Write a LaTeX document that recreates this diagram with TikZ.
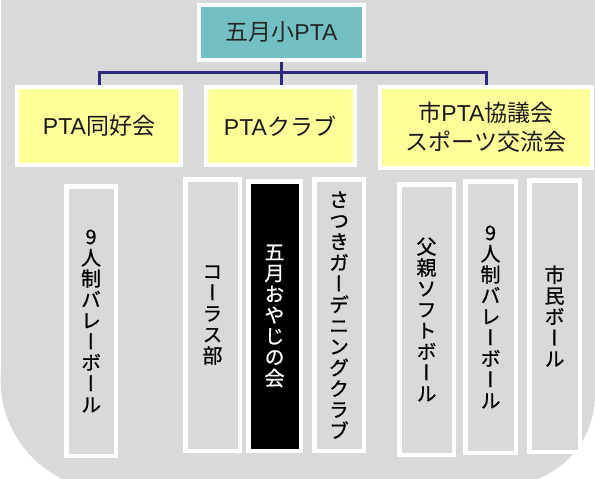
\documentclass[tikz,border=0pt]{standalone}
\usepackage{fontspec}
\usetikzlibrary{backgrounds}
\setmainfont{Liberation Sans}
\newfontfamily\jp{Noto Sans CJK JP}
\newfontfamily\jpv[RawFeature=+vert, FakeBold=0.8]{Noto Sans CJK JP}
\definecolor{bggray}{HTML}{D9D9D9}
\definecolor{teal1}{HTML}{72C0C4}
\definecolor{yel1}{HTML}{FFFF99}
\definecolor{navy1}{HTML}{2B2A7C}
\begin{document}
\begin{tikzpicture}[x=1pt,y=1pt,
  topbox/.style={draw=white, line width=4pt, fill=teal1, minimum width=165pt, minimum height=55pt, inner sep=0pt, font=\fontsize{23}{29}\selectfont, text=black!85},
  lvbox/.style={draw=white, line width=4pt, fill=yel1, inner sep=0pt, align=center, font=\fontsize{23}{29}\selectfont, text=black!90},
  vbox/.style={draw=white, line width=4.5pt, fill=bggray, inner sep=0pt, align=center, font=\jpv\fontsize{20}{21}\selectfont},
  conn/.style={draw=navy1, line width=3pt}]
\useasboundingbox (0,0) rectangle (595,-479);
\begin{scope}[on background layer]
\clip (0,0) rectangle (595,-479);
\fill[bggray] (0.5,0) rectangle (111,-380);
\fill[bggray] (110.5,-380) circle[radius=110];
\fill[bggray] (110.5,0) rectangle (505,-480);
\fill[bggray] (505,0) rectangle (596,-395);
\fill[bggray] (505,-395) circle[radius=90];
\end{scope}
% top
\node[topbox] (top) at (281.5,-32) {{\jp 五月小}PTA};
% level 1
\node[lvbox, minimum width=164pt, minimum height=78pt] (b1) at (99,-126) {PTA{\jp 同好会}};
\node[lvbox, minimum width=149pt, minimum height=78pt] (b2) at (280,-126) {PTA{\jp クラブ}};
\node[lvbox, minimum width=212pt, minimum height=81pt] (b3) at (486,-127.5) {{\jp 市}PTA{\jp 協議会}\\{\jp スポーツ交流会}};
% connectors
\coordinate (j) at (281.5,-72);
\begin{scope}[on background layer]
\draw[conn] (top.south) -- (j);
\draw[conn] (b1.north) |- (j);
\draw[conn] (b3.north) |- (j);
\draw[conn] (b2.north -| j) -- (j);
\end{scope}
% vertical boxes
\node[vbox, minimum width=49.5pt, minimum height=269.5pt] (v1) at (91,-321) {9\\人\\制\\バ\\レ\\ー\\ボ\\ー\\ル};
\node[vbox, minimum width=54.5pt, minimum height=271.5pt] (v2) at (212.5,-315) {コ\\ー\\ラ\\ス\\部};
\node[vbox, fill=black, text=white, minimum width=52.5pt, minimum height=269.5pt] (v3) at (274.5,-316) {五\\月\\お\\や\\じ\\の\\会};
\node[vbox, minimum width=49.5pt, minimum height=271.5pt] (v4) at (339,-315) {さ\\つ\\き\\ガ\\ー\\デ\\ニ\\ン\\グ\\ク\\ラ\\ブ};
\node[vbox, minimum width=54.5pt, minimum height=270.5pt] (v5) at (426.5,-319.5) {父\\親\\ソ\\フ\\ト\\ボ\\ー\\ル};
\node[vbox, minimum width=50.5pt, minimum height=271.5pt] (v6) at (490.5,-317) {9\\人\\制\\バ\\レ\\ー\\ボ\\ー\\ル};
\node[vbox, minimum width=50.5pt, minimum height=271.5pt] (v7) at (554.5,-316) {市\\民\\ボ\\ー\\ル};
\end{tikzpicture}
\end{document}
